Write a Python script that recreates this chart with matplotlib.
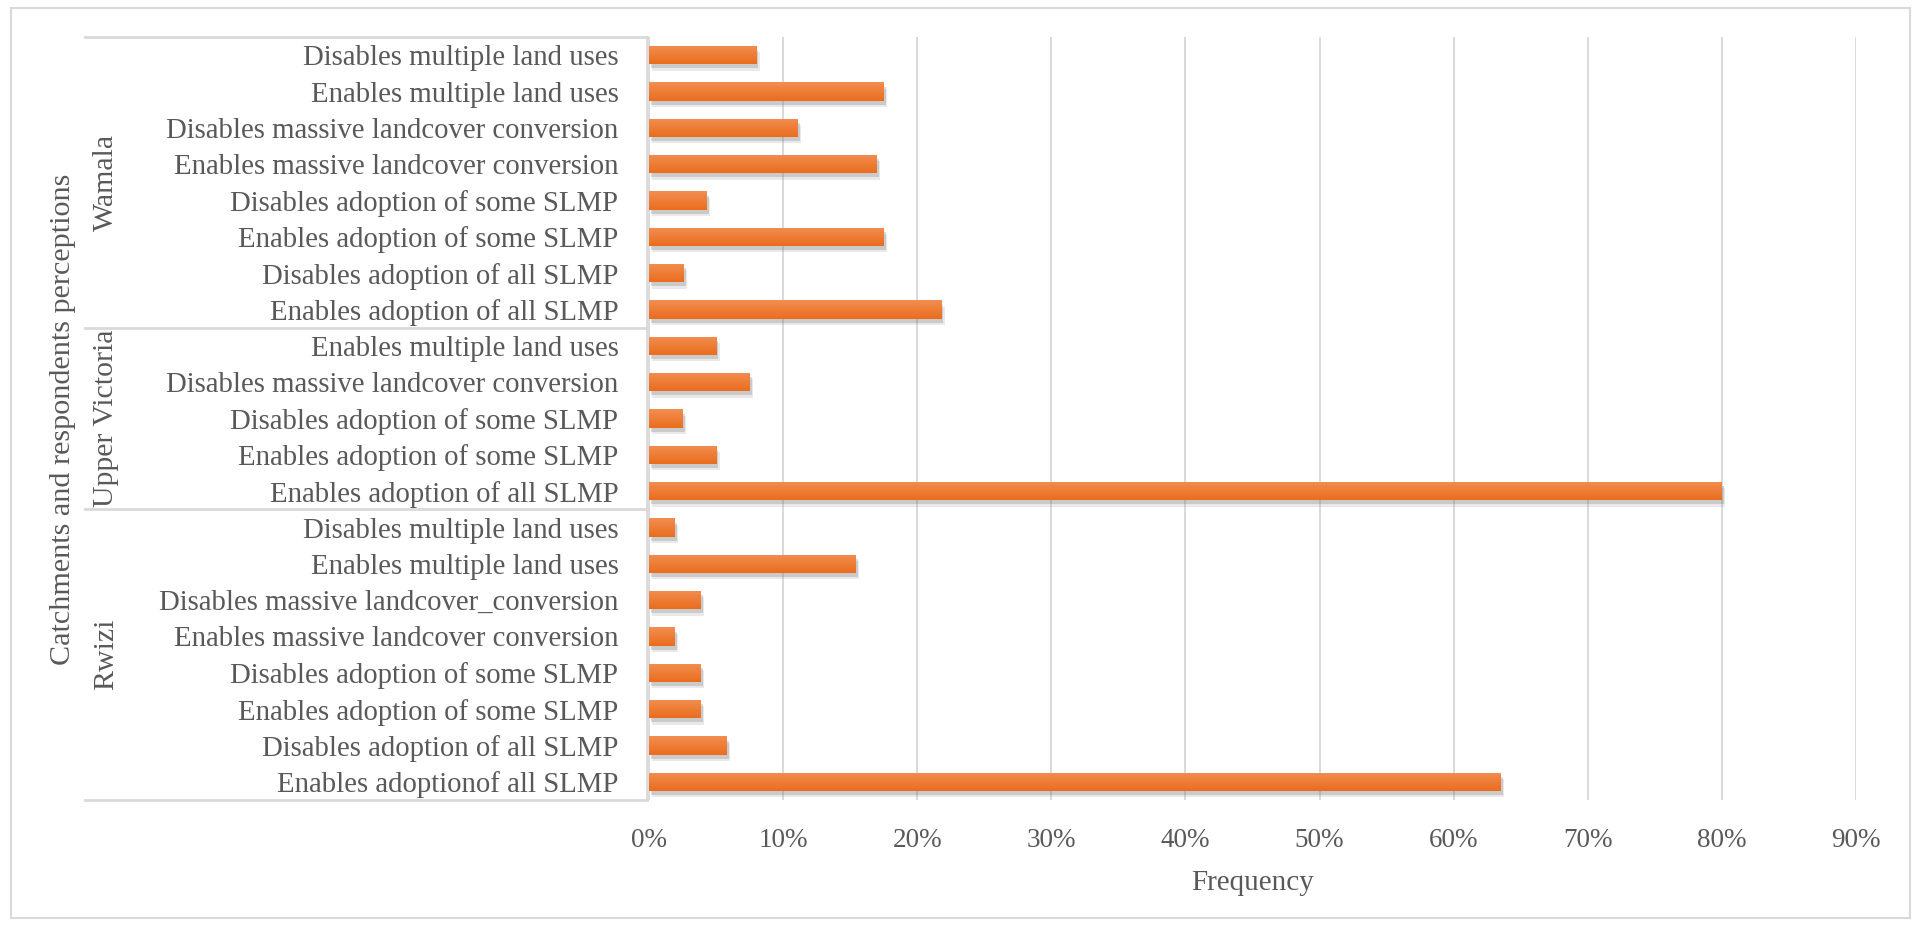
import matplotlib
matplotlib.use("Agg")
import matplotlib.pyplot as plt
import matplotlib.patheffects as pe
import matplotlib.transforms as mtrans
from matplotlib.patches import Rectangle
from matplotlib.ticker import PercentFormatter
from matplotlib.colors import LinearSegmentedColormap
import numpy as np

# ---- data (bottom-to-top within each group) ----
groups = ["Rwizi", "Upper Victoria", "Wamala"]

rwizi_labels = [
    "Enables adoptionof all SLMP",
    "Disables adoption of all SLMP",
    "Enables adoption of some SLMP",
    "Disables adoption of some SLMP",
    "Enables massive landcover conversion",
    "Disables massive landcover_conversion",
    "Enables multiple land uses",
    "Disables multiple land uses",
]
rwizi_values = [63.5, 5.8, 3.85, 3.85, 1.9, 3.85, 15.4, 1.9]

victoria_labels = [
    "Enables adoption of all SLMP",
    "Enables adoption of some SLMP",
    "Disables adoption of some SLMP",
    "Disables massive landcover conversion",
    "Enables multiple land uses",
]
victoria_values = [80.0, 5.0, 2.5, 7.5, 5.0]

wamala_labels = [
    "Enables adoption of all SLMP",
    "Disables adoption of all SLMP",
    "Enables adoption of some SLMP",
    "Disables adoption of some SLMP",
    "Enables massive landcover conversion",
    "Disables massive landcover conversion",
    "Enables multiple land uses",
    "Disables multiple land uses",
]
wamala_values = [21.8, 2.6, 17.5, 4.3, 17.0, 11.1, 17.5, 8.0]

x_ticks = [0, 10, 20, 30, 40, 50, 60, 70, 80, 90]

# ---- build ----
group_labels = [rwizi_labels, victoria_labels, wamala_labels]
group_values = [rwizi_values, victoria_values, wamala_values]
labels = [l for g in group_labels for l in g]
values = [v for g in group_values for v in g]
ypos = np.arange(len(labels))

TXT = "#595959"
GRID = "#D9D9D9"
FONT = ["Liberation Serif", "DejaVu Serif"]
plt.rcParams["font.family"] = FONT

W, H, DPI = 1912, 927, 100
fig = plt.figure(figsize=(W / DPI, H / DPI), dpi=DPI)
fig.patch.set_facecolor("white")

ax_left, ax_right = 649 / W, 1856 / W
ax_bottom, ax_top = 1 - 800 / H, 1 - 37 / H
ax = fig.add_axes([ax_left, ax_bottom, ax_right - ax_left, ax_top - ax_bottom])

bars = ax.barh(ypos, values, height=0.5, color="#ED7D31", zorder=3)
for b in bars:
    b.set_path_effects([
        pe.SimplePatchShadow(offset=(2.5, -4.5), shadow_rgbFace="#8a8a8a", alpha=0.18),
        pe.SimplePatchShadow(offset=(1.5, -3.0), shadow_rgbFace="#7a7a7a", alpha=0.28),
        pe.Normal()])

# gradient overlay on each bar
grad = np.linspace(0, 1, 64).reshape(-1, 1)
cmap = LinearSegmentedColormap.from_list("og", ["#EA6D1D", "#F28E52"])
for b in bars:
    x0, y0, w, h = b.get_x(), b.get_y(), b.get_width(), b.get_height()
    im = ax.imshow(grad, cmap=cmap, extent=(x0, x0 + w, y0, y0 + h), origin="lower",
                   aspect="auto", zorder=4, interpolation="bilinear")
    im.set_clip_path(b)

ax.set_xlim(0, 90)
ax.set_ylim(-0.5, len(labels) - 0.5)

ax.set_xticks(x_ticks)
ax.xaxis.set_major_formatter(PercentFormatter(decimals=0))
ax.grid(axis="x", color=GRID, linewidth=1.4, zorder=0)
ax.set_axisbelow(True)
for s in ax.spines.values():
    s.set_visible(False)
ax.tick_params(axis="x", length=0, pad=20, labelsize=19.5, labelcolor=TXT)
ax.set_yticks(ypos)
ax.set_yticklabels(labels)
ax.tick_params(axis="y", length=0, pad=22, labelsize=20.7, labelcolor=TXT)

ax.set_xlabel("Frequency", fontsize=21, color=TXT, va="center")
ax.xaxis.set_label_coords(0.5, -(883 - 800) / 763)

# category box lines (figure coords for x, data coords for y)
box_x0 = 85 / W
trans = mtrans.blended_transform_factory(fig.transFigure, ax.transData)
sizes = [len(g) for g in group_labels]
bounds = np.concatenate([[0], np.cumsum(sizes)]) - 0.5
for yb in bounds:
    ax.plot([box_x0, ax_left - 2 / W], [yb, yb], transform=trans, color=GRID,
            linewidth=2.0, clip_on=False, zorder=1)
ax.plot([ax_left - 2 / W, ax_left - 2 / W], [bounds[0], bounds[-1]], transform=trans,
        color=GRID, linewidth=2.0, clip_on=False, zorder=1)

# group labels
for gname, lo, hi in zip(groups, bounds[:-1], bounds[1:]):
    ax.text(106 / W, (lo + hi) / 2, gname, transform=trans, rotation=90,
            ha="center", va="center", fontsize=21.5, color=TXT)

# overall y label
fig.text(63 / W, 1 - 419 / H, "Catchments and respondents perceptions", rotation=90,
         ha="center", va="center", fontsize=21.7, color=TXT)

# outer border
fig.add_artist(Rectangle((11 / W, 1 - 918 / H), (1910 - 11) / W, (918 - 8) / H,
                         transform=fig.transFigure, fill=False, edgecolor=GRID,
                         linewidth=1.5))

fig.savefig("out.png", dpi=DPI)
